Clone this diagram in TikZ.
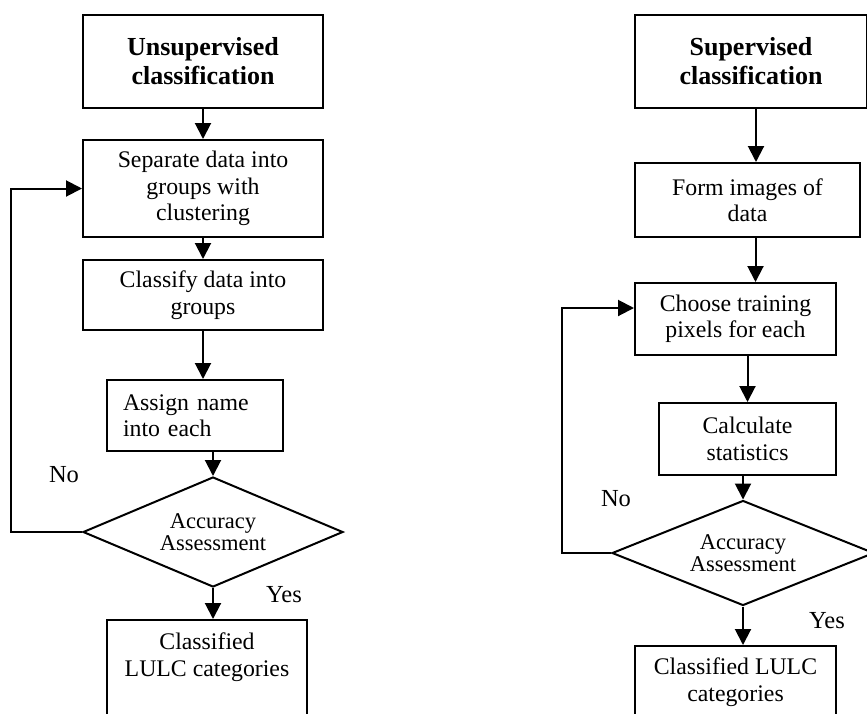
\documentclass[tikz,border=0pt]{standalone}
\usepackage{fontspec}
\setmainfont{Liberation Serif}
\usepackage{tikz}
\usetikzlibrary{shapes.geometric}
\usetikzlibrary{arrows.meta}
\tikzset{
	box/.style={draw,line width=2pt,inner sep=0pt,align=center,font=\fontsize{23.8}{26.5}\selectfont},
	headbox/.style={box,font=\fontsize{26}{29}\selectfont\bfseries},
	decision/.style={draw,diamond,line width=2pt,inner sep=0pt,aspect=2.5,align=center,font=\fontsize{22.5}{22}\selectfont},
	flow/.style={line width=2pt,-{Triangle[length=16pt,width=16pt]}},
	answer/.style={font=\fontsize{24.5}{26}\selectfont}
}

\begin{document}
\begin{tikzpicture}[x=1pt,y=-1pt]
	\useasboundingbox (0,0) rectangle (867,713);
	\clip (0,0) rectangle (867,713);
	% unsupervised
	\node[headbox,minimum width=240pt,minimum height=93pt] (titleU) at (203,61.5) {Unsupervised\\classification};
	\node[box,minimum width=240pt,minimum height=97pt] (sepL) at (203,188.5) {Separate data into\\groups with\\clustering};
	\node[box,minimum width=240pt,minimum height=70pt] (classL) at (203,295) {Classify data into\\groups};
	\node[box,minimum width=176pt,minimum height=71pt,text width=144pt,align=left] (assignL) at (195,415.5) {Assign name\\into each};
	\node[decision,minimum width=260pt,minimum height=110pt] (accL) at (213,532) {Accuracy\\Assessment};
	\node[box,anchor=north,minimum width=200pt,inner ysep=13pt,text depth=60pt] (lulcL) at (207,619) {Classified\\LULC categories};
	\node[answer] (noL) at (64,475) {No};
	\node[answer] (yesL) at (284,595) {Yes};
	\draw[flow] (titleU.south) -- (sepL.north);
	\draw[flow] (sepL.south) -- (classL.north);
	\draw[flow] (classL.south) -- (classL.south |- assignL.north);
	\draw[flow] (accL.north |- assignL.south) -- (accL.north);
	\draw[flow] (accL.south) -- (accL.south |- lulcL.north);
	\draw[flow] (accL.west) -- ++(-71,0) |- (sepL.west);
	% supervised
	\node[headbox,minimum width=232pt,minimum height=93pt] (titleS) at (751,61.5) {Supervised\\classification};
	\node[box,minimum width=225pt,minimum height=74pt] (formR) at (747.5,200) {Form images of\\data};
	\node[box,minimum width=201pt,minimum height=72pt] (chooseR) at (735.5,319) {Choose training\\pixels for each};
	\node[box,minimum width=177pt,minimum height=72pt] (calcR) at (747.5,439) {Calculate\\statistics};
	\node[decision,minimum width=262pt,minimum height=105pt] (accR) at (743,553) {Accuracy\\Assessment};
	\node[box,anchor=north,minimum width=201pt,inner ysep=12pt,text depth=60pt] (lulcR) at (735.5,645) {Classified LULC\\categories};
	\node[answer] (noR) at (616,499) {No};
	\node[answer] (yesR) at (827,621) {Yes};
	\draw[flow] ([xshift=5pt]titleS.south) -- ([xshift=5pt]titleS.south |- formR.north);
	\draw[flow] ([xshift=8pt]formR.south) -- ([xshift=8pt]formR.south |- chooseR.north);
	\draw[flow] (calcR.north |- chooseR.south) -- (calcR.north);
	\draw[flow] (accR.north |- calcR.south) -- (accR.north);
	\draw[flow] (accR.south) -- (accR.south |- lulcR.north);
	\draw[flow] (accR.west) -- ++(-49,0) |- ([yshift=11pt]chooseR.west);
\end{tikzpicture}
\end{document}
